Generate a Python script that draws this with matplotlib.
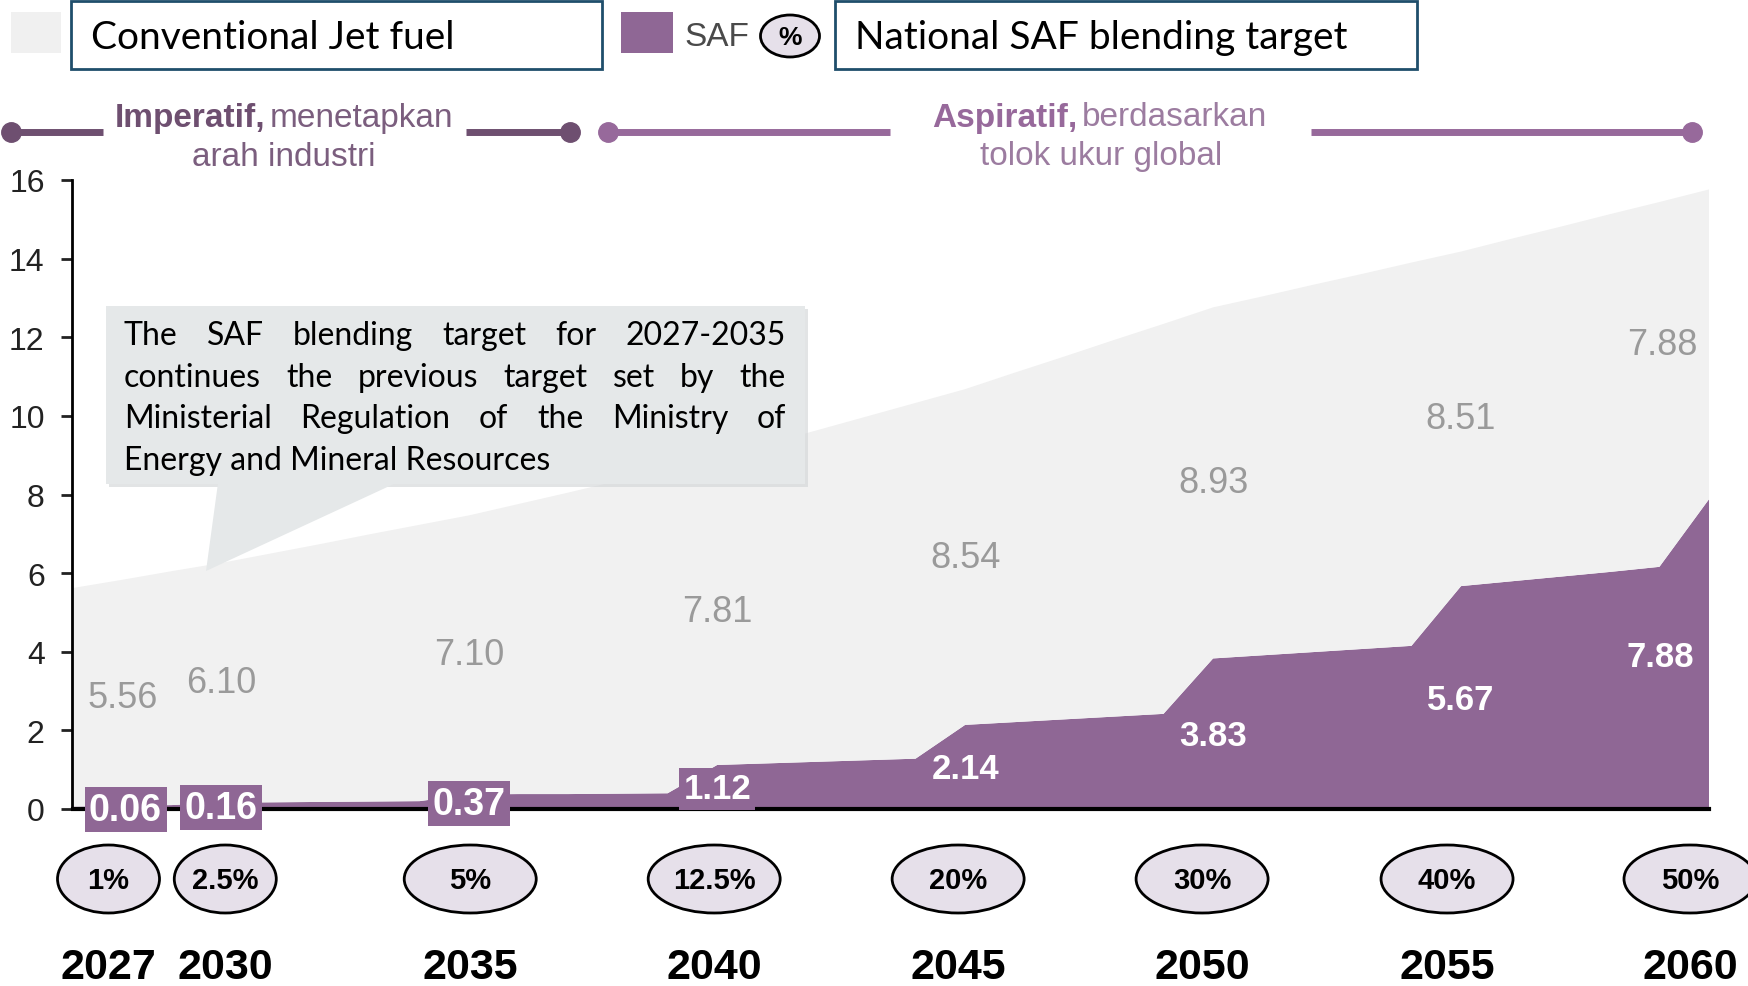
import matplotlib
matplotlib.use("Agg")
import matplotlib.pyplot as plt
from matplotlib.patches import Rectangle, Polygon, Ellipse
from matplotlib import transforms

plt.rcParams['font.family'] = ['Liberation Sans', 'DejaVu Sans']

# data (million kL)
years = list(range(2027, 2061))
saf = [0.06, 0.08, 0.10, 0.16, 0.17, 0.18, 0.19, 0.20, 0.37, 0.38, 0.38, 0.39,
       0.40, 1.12, 1.16, 1.20, 1.24, 1.28, 2.14, 2.21, 2.28, 2.35, 2.42, 3.83,
       3.91, 3.99, 4.07, 4.15, 5.67, 5.79, 5.91, 6.03, 6.16, 7.88]
conventional = [5.56, 5.75, 5.95, 6.10, 6.33, 6.56, 6.80, 7.03, 7.10, 7.38,
                7.67, 7.96, 8.24, 7.81, 8.12, 8.43, 8.74, 9.05, 8.54, 8.89,
                9.23, 9.58, 9.92, 8.93, 9.13, 9.34, 9.54, 9.75, 8.51, 8.71,
                8.90, 9.10, 9.28, 7.88]
milestones = [2027, 2030, 2035, 2040, 2045, 2050, 2055, 2060]
targets = ['1%', '2.5%', '5%', '12.5%', '20%', '30%', '40%', '50%']
yticks = [0, 2, 4, 6, 8, 10, 12, 14, 16]

callout = ["The SAF blending target for 2027-2035",
           "continues the previous target set by the",
           "Ministerial Regulation of the Ministry of",
           "Energy and Mineral Resources"]

PURPLE = '#8F6795'
GREY = '#F1F1F1'
LAV = '#E6E0EA'
W, H = 1749, 987

fig = plt.figure(figsize=(W / 100, H / 100), dpi=100)
ax = fig.add_axes([72.5 / W, 1 - 810 / H, (1709 - 72.5) / W, (810 - 181) / H])

ax.stackplot(years, saf, conventional, colors=[PURPLE, GREY], linewidth=0)
ax.set_xlim(2027, 2060)
ax.set_ylim(0, 16)
ax.set_yticks(yticks)
ax.set_xticks([])
for s in ['top', 'right']:
    ax.spines[s].set_visible(False)
ax.spines['left'].set_linewidth(2)
ax.spines['bottom'].set_linewidth(3)
ax.spines['bottom'].set_zorder(2)
ax.tick_params(axis='y', length=8, width=2, labelsize=23, pad=12, colors='#222222')

# value labels
idx = [years.index(y) for y in milestones]
conv_dx = {2027: 50, 2060: -47}
saf_dx = {2027: 53, 2060: -49}
for y, i in zip(milestones, idx):
    tr = transforms.offset_copy(ax.transData, fig, x=conv_dx.get(y, 0), y=0, units='dots')
    ax.text(y, saf[i] + conventional[i] / 2, f'{conventional[i]:.2f}', transform=tr,
            ha='center', va='center', fontsize=26, color='#9A9A9A', zorder=5)
    tr = transforms.offset_copy(ax.transData, fig, x=saf_dx.get(y, 0), y=-2, units='dots')
    small = y <= 2040
    box = dict(boxstyle='square,pad=0.12', fc=PURPLE, ec='none') if small else None
    ax.text(y, saf[i] / 2, f'{saf[i]:.2f}', transform=tr, ha='center', va='center',
            fontsize=27 if small and y < 2040 else 25, fontweight='bold',
            color='white', bbox=box, zorder=6)

# overlay in pixel coordinates
ov = fig.add_axes([0, 0, 1, 1], zorder=10)
ov.set_xlim(0, W)
ov.set_ylim(H, 0)
ov.axis('off')
ov.patch.set_alpha(0)

# targets and years under the axis
row_dx = [36, 4, 1, -3, -7, -11, -14, -19]
ell_w = [102, 102, 132, 132, 132, 132, 132, 132]
for y, t, dx, ew in zip(milestones, targets, row_dx, ell_w):
    px = ax.transData.transform((y, 0))[0] + dx
    ov.add_patch(Ellipse((px, 880), ew, 68, fc=LAV, ec='black', lw=2))
    ov.text(px, 881, t, ha='center', va='center', fontsize=21, fontweight='bold')
    ov.text(px, 968, str(y), ha='center', va='center', fontsize=31, fontweight='bold')

# legend
ov.add_patch(Rectangle((11, 13), 50, 41, fc='#F0F0F0', ec='none'))
ov.add_patch(Rectangle((71, 2), 531, 68, fc='white', ec='#1F4E6B', lw=2))
ov.text(91, 38, 'Conventional Jet fuel', ha='left', va='center', fontsize=28,
        family='Lato')
ov.add_patch(Rectangle((621, 13), 52, 41, fc=PURPLE, ec='none'))
ov.text(684, 37, 'SAF', ha='left', va='center', fontsize=24, color='#4A4A4A')
ov.add_patch(Ellipse((790, 37), 59, 42, fc=LAV, ec='black', lw=2))
ov.text(790, 38, '%', ha='center', va='center', fontsize=19, fontweight='bold')
ov.add_patch(Rectangle((835, 2), 582, 68, fc='white', ec='#1F4E6B', lw=2))
ov.text(855, 38, 'National SAF blending target', ha='left', va='center', fontsize=28,
        family='Lato')

# phase lines
DARK = '#6E4F70'
LIGHT = '#97699B'
for xs, c in [((11, 103), DARK), ((466, 570), DARK), ((608, 890), LIGHT), ((1311, 1692), LIGHT)]:
    ov.plot(xs, [133, 133], color=c, lw=5, solid_capstyle='butt')
for x, c in [(11, DARK), (570, DARK), (608, LIGHT), (1692, LIGHT)]:
    ov.plot(x, 133, 'o', color=c, ms=14)
ov.text(265, 118, 'Imperatif,', ha='right', va='center', fontsize=24,
        fontweight='bold', color=DARK)
ov.text(270, 118, 'menetapkan', ha='left', va='center', fontsize=24, color='#7B5E7E')
ov.text(284, 157, 'arah industri', ha='center', va='center', fontsize=24, color='#7B5E7E')
ov.text(1077, 118, 'Aspiratif,', ha='right', va='center', fontsize=24,
        fontweight='bold', color=LIGHT)
ov.text(1082, 118, 'berdasarkan', ha='left', va='center', fontsize=24, color='#9C7CA0')
ov.text(1101, 157, 'tolok ukur global', ha='center', va='center', fontsize=24,
        color='#9C7CA0')

# callout
ov.add_patch(Rectangle((109, 310), 699, 178, fc='#D0D3D5', ec='none', alpha=0.6))
ov.add_patch(Rectangle((106, 307), 699, 178, fc='#E5E8E9', ec='none'))
ov.add_patch(Polygon([(218, 484), (396, 484), (206, 572)], closed=True,
                     fc='#E5E8E9', ec='none'))
renderer = fig.canvas.get_renderer()
x0, x1 = 124, 786
for k, line in enumerate(callout):
    yy = 336 + k * 41.7
    if k == len(callout) - 1:
        ov.text(x0, yy, line, ha='left', va='center', fontsize=23, family='Lato')
        continue
    words = line.split()
    txts = [ov.text(0, yy, w, ha='left', va='center', fontsize=23, family='Lato')
            for w in words]
    widths = [t.get_window_extent(renderer).width for t in txts]
    gap = (x1 - x0 - sum(widths)) / (len(words) - 1)
    x = x0
    for t, w in zip(txts, widths):
        t.set_x(x)
        x += w + gap

fig.savefig('out.png', dpi=100)
